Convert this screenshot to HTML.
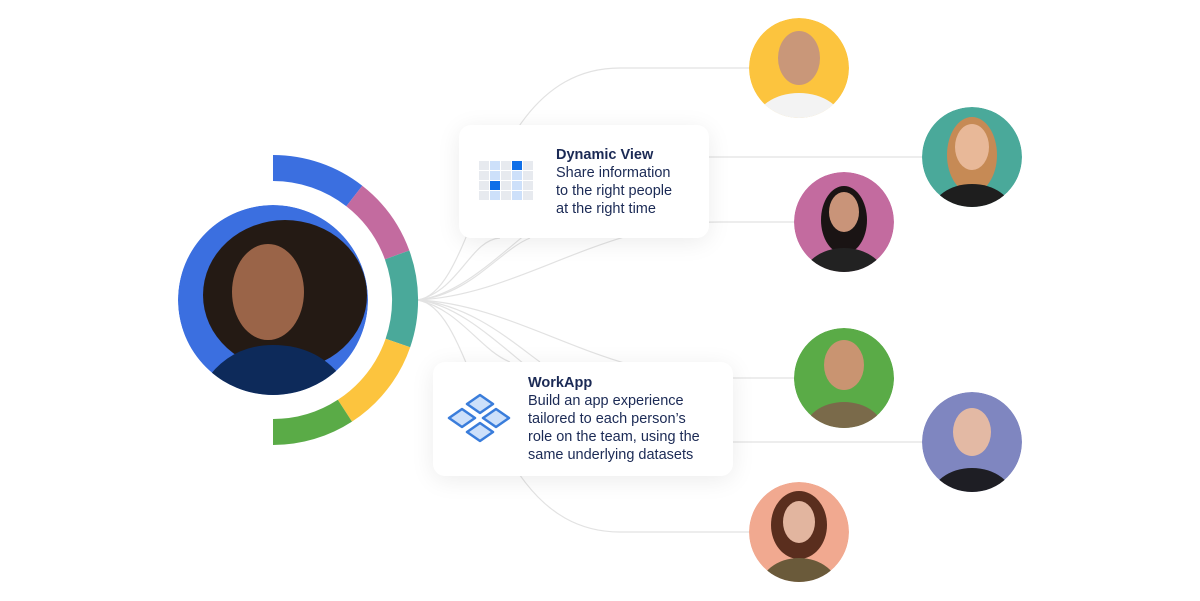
<!DOCTYPE html>
<html><head><meta charset="utf-8"><style>
body{margin:0;background:#fff;width:1200px;height:601px;overflow:hidden;position:relative;font-family:"Liberation Sans",sans-serif}
.card{position:absolute;background:#fff;border-radius:12px;box-shadow:0 4px 24px rgba(0,0,0,0.08);color:#1b2a55;font-size:14.5px;line-height:18px}
.card b{font-weight:bold}
</style></head><body>
<svg width="1200" height="601" style="position:absolute;left:0;top:0">
<defs>
<clipPath id="c0"><circle cx="273" cy="300" r="95"/></clipPath>
<clipPath id="c1"><circle cx="799" cy="68" r="50"/></clipPath>
<clipPath id="c2"><circle cx="972" cy="157" r="50"/></clipPath>
<clipPath id="c3"><circle cx="844" cy="222" r="50"/></clipPath>
<clipPath id="c4"><circle cx="844" cy="378" r="50"/></clipPath>
<clipPath id="c5"><circle cx="972" cy="442" r="50"/></clipPath>
<clipPath id="c6"><circle cx="799" cy="532" r="50"/></clipPath>
</defs>
<g fill="none" stroke="#e2e2e2" stroke-width="1.2">
<path d="M418 300 C480 290 480 68 620 68 L750 68"/>
<path d="M418 300 C500 290 560 157 700 157 L922 157"/>
<path d="M418 300 C520 295 600 222 720 222 L795 222"/>
<path d="M418 300 C520 305 600 378 720 378 L795 378"/>
<path d="M418 300 C500 310 560 442 700 442 L922 442"/>
<path d="M418 300 C480 310 480 532 620 532 L750 532"/>
<path d="M418 300 C460 290 470 240 500 238"/>
<path d="M418 300 C470 295 500 250 530 238"/>
<path d="M418 300 C460 310 480 350 510 362"/>
<path d="M418 300 C470 305 510 340 540 362"/>
</g>
<g fill="none" stroke-width="26">
<path d="M273 168 A132 132 0 0 1 354.3 196" stroke="#3b6fe0"/>
<path d="M354.3 196 A132 132 0 0 1 397.1 254.9" stroke="#c36b9f"/>
<path d="M397.1 254.9 A132 132 0 0 1 397.9 343" stroke="#4aa99a"/>
<path d="M397.9 343 A132 132 0 0 1 344.9 410.7" stroke="#fcc43e"/>
<path d="M344.9 410.7 A132 132 0 0 1 273 432" stroke="#5aab47"/>
</g>
<g clip-path="url(#c0)">
<circle cx="273" cy="300" r="95" fill="#3b6fe0"/>
<ellipse cx="285" cy="295" rx="82" ry="75" fill="#241a14"/>
<path d="M195 400 Q220 345 273 345 Q330 345 355 400Z" fill="#0d2a5a"/>
<ellipse cx="268" cy="292" rx="36" ry="48" fill="#9a6448"/>
</g>
<g clip-path="url(#c1)"><circle cx="799" cy="68" r="50" fill="#fcc43e"/><ellipse cx="799" cy="58" rx="21" ry="27" fill="#c99779"/><ellipse cx="799" cy="125" rx="45" ry="32" fill="#f3f3f3"/></g>
<g clip-path="url(#c2)"><circle cx="972" cy="157" r="50" fill="#4aa99a"/><ellipse cx="972" cy="155" rx="25" ry="38" fill="#c68a55"/><ellipse cx="972" cy="147" rx="17" ry="23" fill="#e8b898"/><ellipse cx="972" cy="212" rx="40" ry="28" fill="#1e1e1e"/></g>
<g clip-path="url(#c3)"><circle cx="844" cy="222" r="50" fill="#c36b9f"/><ellipse cx="844" cy="220" rx="23" ry="34" fill="#1a1414"/><ellipse cx="844" cy="212" rx="15" ry="20" fill="#c99479"/><ellipse cx="844" cy="280" rx="42" ry="32" fill="#222"/></g>
<g clip-path="url(#c4)"><circle cx="844" cy="378" r="50" fill="#5aab47"/><ellipse cx="844" cy="365" rx="20" ry="25" fill="#c99471"/><ellipse cx="844" cy="432" rx="40" ry="30" fill="#7a6a4a"/></g>
<g clip-path="url(#c5)"><circle cx="972" cy="442" r="50" fill="#7f86c0"/><ellipse cx="972" cy="432" rx="19" ry="24" fill="#e3b9a4"/><ellipse cx="972" cy="500" rx="42" ry="32" fill="#1e1e24"/></g>
<g clip-path="url(#c6)"><circle cx="799" cy="532" r="50" fill="#f1a990"/><ellipse cx="799" cy="525" rx="28" ry="34" fill="#5a2e1e"/><ellipse cx="799" cy="522" rx="16" ry="21" fill="#e2b59f"/><ellipse cx="799" cy="590" rx="40" ry="32" fill="#6a5a3a"/></g>
</svg>
<div class="card" style="left:459px;top:125px;width:250px;height:113px">
<svg width="60" height="40" style="position:absolute;left:20px;top:36px">
<g fill="#e7eaef"><rect x="0" y="0" width="10" height="9"/><rect x="22" y="0" width="10" height="9"/><rect x="44" y="0" width="10" height="9"/>
<rect x="0" y="10" width="10" height="9"/><rect x="22" y="10" width="10" height="9"/><rect x="44" y="10" width="10" height="9"/>
<rect x="0" y="20" width="10" height="9"/><rect x="22" y="20" width="10" height="9"/><rect x="44" y="20" width="10" height="9"/>
<rect x="0" y="30" width="10" height="9"/><rect x="22" y="30" width="10" height="9"/><rect x="44" y="30" width="10" height="9"/></g>
<g fill="#cde0fa"><rect x="11" y="0" width="10" height="9"/><rect x="11" y="10" width="10" height="9"/><rect x="11" y="30" width="10" height="9"/><rect x="33" y="10" width="10" height="9"/><rect x="33" y="20" width="10" height="9"/><rect x="33" y="30" width="10" height="9"/></g>
<g fill="#0f6fe8"><rect x="33" y="0" width="10" height="9"/><rect x="11" y="20" width="10" height="9"/></g>
</svg>
<div style="position:absolute;left:97px;top:21px"><b>Dynamic View</b><br>Share information<br>to the right people<br>at the right time</div>
</div>
<div class="card" style="left:433px;top:362px;width:300px;height:114px">
<svg width="66" height="54" style="position:absolute;left:14px;top:31px" fill="#cde0fa" stroke="#3a7ddb" stroke-width="2.5" stroke-linejoin="round">
<path d="M33 2 L46 11 L33 20 L20 11Z"/><path d="M15 16 L28 25 L15 34 L2 25Z"/><path d="M49 16 L62 25 L49 34 L36 25Z"/><path d="M33 30 L46 39 L33 48 L20 39Z"/>
</svg>
<div style="position:absolute;left:95px;top:12px"><b>WorkApp</b><br>Build an app experience<br>tailored to each person’s<br>role on the team, using the<br>same underlying datasets</div>
</div>
</body></html>
